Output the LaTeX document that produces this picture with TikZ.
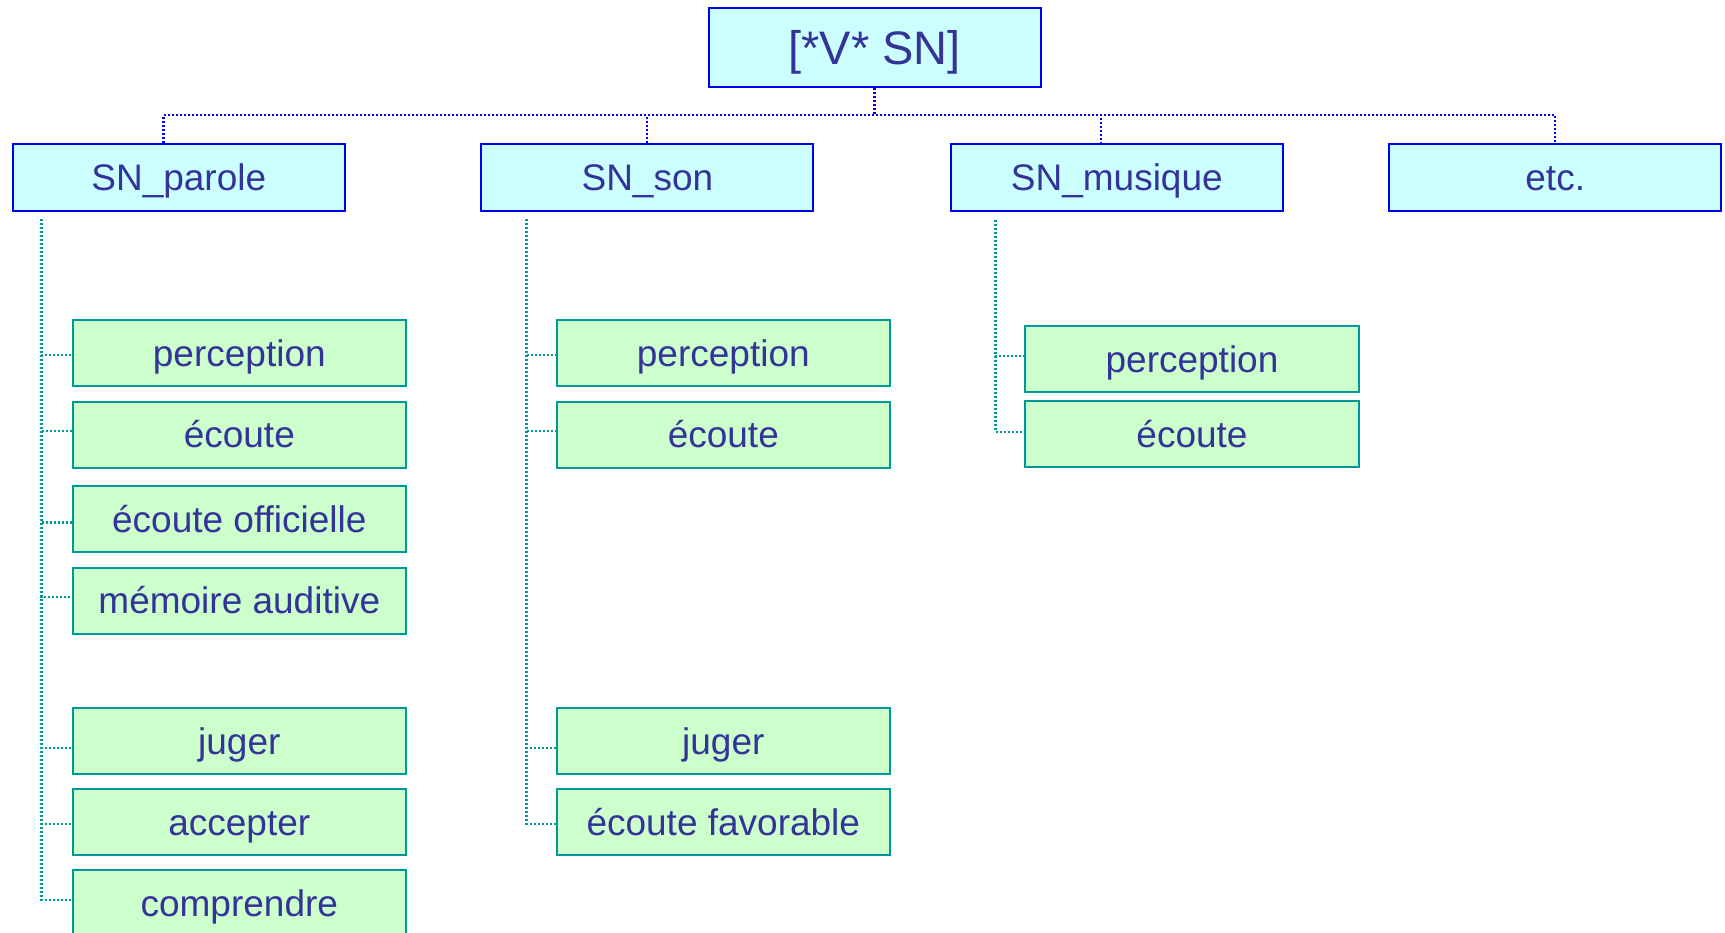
\documentclass[tikz,border=0pt]{standalone}
\usepackage{fontspec}
\setmainfont{Liberation Sans}
\usetikzlibrary{calc}
\definecolor{topfill}{HTML}{CCFFFF}
\definecolor{topdraw}{HTML}{0000F0}
\definecolor{txt}{HTML}{333399}
\definecolor{grnfill}{HTML}{CCFFCC}
\definecolor{grndraw}{HTML}{009999}
\tikzset{
  topbox/.style={draw=topdraw, fill=topfill, line width=2pt, minimum width=332pt, minimum height=66.7pt,
    inner sep=0pt, text=txt, text height=26.5pt, text depth=0pt, font=\fontsize{37}{44}\selectfont},
  rootbox/.style={topbox, minimum height=79pt, text height=33.8pt, font=\fontsize{47}{56}\selectfont},
  grnbox/.style={draw=grndraw, fill=grnfill, line width=2pt, minimum width=333.5pt, minimum height=66pt,
    inner sep=0pt, text=txt, text height=26.5pt, text depth=0pt, font=\fontsize{37}{44}\selectfont},
  topline/.style={draw=topdraw, line width=2.4pt, dash pattern=on 2pt off 2pt},
  subline/.style={draw=grndraw, line width=2.4pt, dash pattern=on 2pt off 2pt},
}
\begin{document}
\begin{tikzpicture}[x=1pt,y=-1pt]
\useasboundingbox (0,0) rectangle (1725,933);
\clip (0,0) rectangle (1725,933);
\fill[white] (0,0) rectangle (1725,933);

\node[rootbox] (root) at (874.5,47.8) {[*V* SN]};
\node[topbox] (parole) at (178.8,177.3) {SN\_parole};
\node[topbox] (son) at (647.4,177.3) {SN\_son};
\node[topbox] (musique) at (1116.8,177.3) {SN\_musique};
\node[topbox] (etc) at (1555.2,177.3) {etc.};

% parole column
\node[grnbox] (p1) at (239.3,353) {perception};
\node[grnbox] (p2) at (239.3,434.5) {écoute};
\node[grnbox] (p3) at (239.3,519) {écoute officielle};
\node[grnbox] (p4) at (239.3,600.7) {mémoire auditive};
\node[grnbox] (p5) at (239.3,741) {juger};
\node[grnbox] (p6) at (239.3,822) {accepter};
\node[grnbox] (p7) at (239.3,903) {comprendre};

% son column
\node[grnbox] (s1) at (723.3,353) {perception};
\node[grnbox] (s2) at (723.3,434.5) {écoute};
\node[grnbox] (s3) at (723.3,741) {juger};
\node[grnbox] (s4) at (723.3,822) {écoute favorable};

% musique column
\node[grnbox] (m1) at (1192,359) {perception};
\node[grnbox] (m2) at (1192,434.4) {écoute};

% top connectors
\coordinate (bus) at ($(root.south)+(0,27)$);
\draw[topline] (root.south) -- (bus) -| ([xshift=-15.3pt]parole.north);
\draw[topline] (root.south) -- (bus) -| ([xshift=-0.6pt]son.north);
\draw[topline] (root.south) -- (bus) -| ([xshift=-16pt]musique.north);
\draw[topline] (root.south) -- (bus) -| (etc.north);

% sub connectors
\coordinate (pt) at ([xshift=29.7pt,yshift=-7.5pt]parole.south west);
\foreach \c/\d in {p1/-2.3,p2/3.5,p3/-3.5,p4/3.7,p5/-7,p6/-2,p7/3}
  \draw[subline] (pt) |- ([yshift=\d pt]\c.west);
\coordinate (st) at ([xshift=46pt,yshift=-7.5pt]son.south west);
\foreach \c/\d in {s1/-2,s2/3.5,s3/-7,s4/-2}
  \draw[subline] (st) |- ([yshift=\d pt]\c.west);
\coordinate (mt) at ([xshift=45.5pt,yshift=-8.3pt]musique.south west);
\draw[subline] (mt) |- ([yshift=3pt]m1.west);
\draw[subline] (mt) |- ([yshift=2.7pt]m2.west);
\end{tikzpicture}
\end{document}
